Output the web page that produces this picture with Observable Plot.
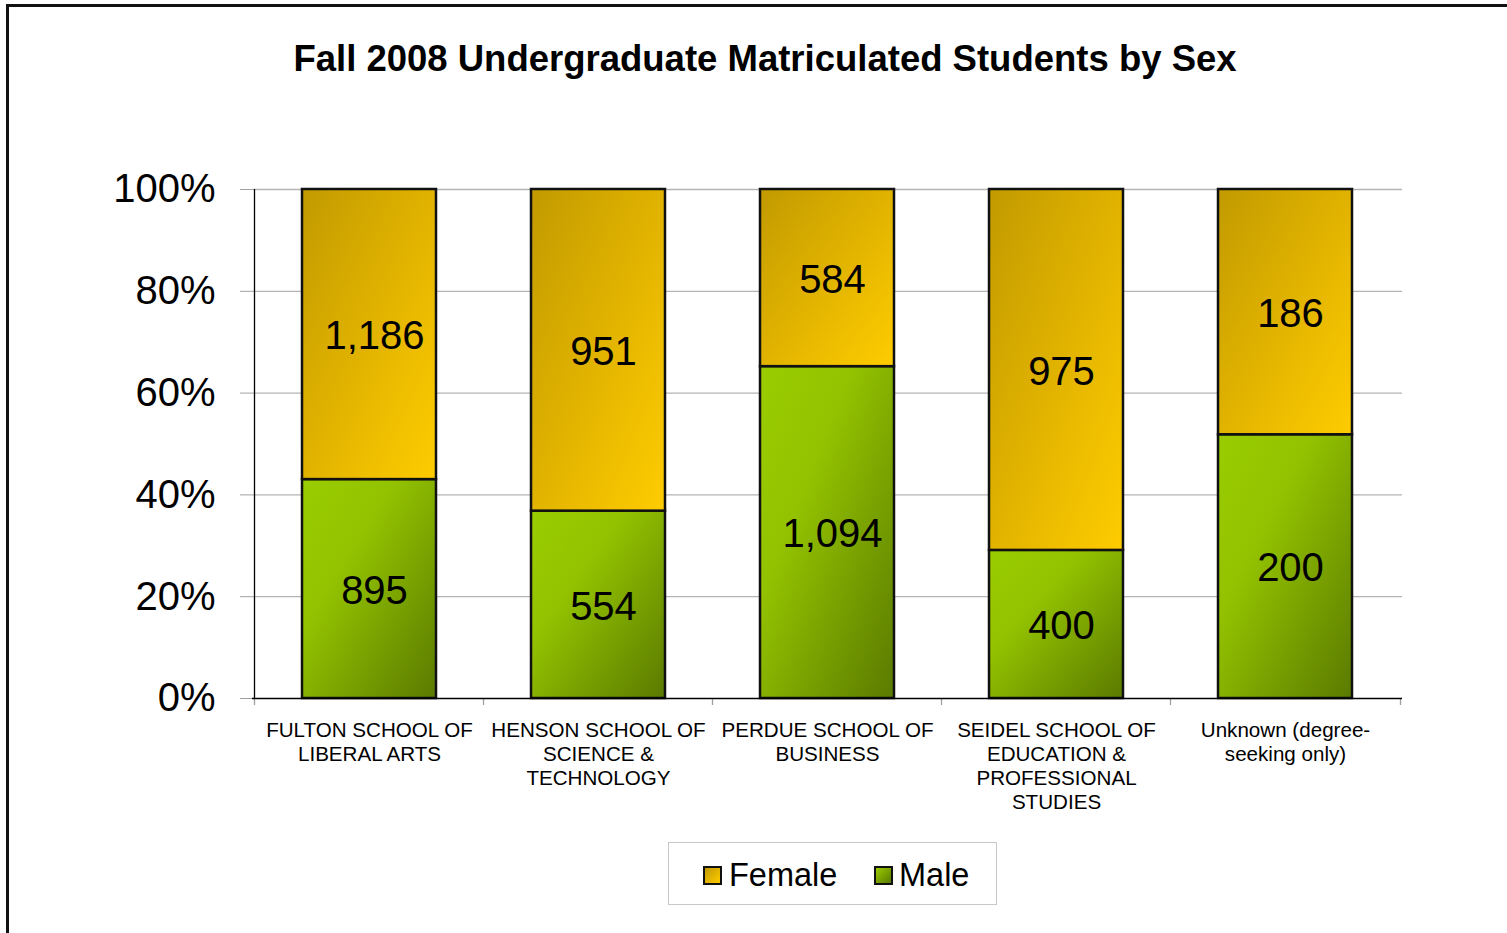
<!DOCTYPE html>
<html><head><meta charset="utf-8">
<script src="https://cdn.jsdelivr.net/npm/d3@7"></script>
<script src="https://cdn.jsdelivr.net/npm/@observablehq/plot@0.6"></script>
<style>
body{margin:0;width:1507px;height:933px;overflow:hidden;background:#fff;font-family:"Liberation Sans",Arial,sans-serif;position:relative}
#frame{position:absolute;left:6px;top:4px;width:1600px;height:1000px;border:3px solid #111;}
#chart{position:absolute;left:0;top:0}
#title{position:absolute;left:0;width:1530px;top:41px;text-align:center;font-weight:bold;font-size:36.5px;line-height:1;white-space:nowrap}
#legend{position:absolute;left:668px;top:842px;width:327px;height:61px;border:1px solid #c8c8c8;background:#fff}
.sw{position:absolute;width:15px;height:15px;border:2px solid #111}
.lt{position:absolute;font-size:32.5px;line-height:1;white-space:nowrap}
</style></head>
<body>
<div id="frame"></div>
<div id="chart"></div>
<div id="title">Fall 2008 Undergraduate Matriculated Students by Sex</div>
<div id="legend">
  <div class="sw" style="left:34px;top:23px;background:linear-gradient(135deg,#c29a00,#ffcc00)"></div>
  <div class="lt" style="left:60px;top:16px">Female</div>
  <div class="sw" style="left:205px;top:23px;background:linear-gradient(135deg,#99cc00,#5c7a00)"></div>
  <div class="lt" style="left:230px;top:16px">Male</div>
</div>
<script>
const schools = ["FULTON", "HENSON", "PERDUE", "SEIDEL", "Unknown"];
const schoolLabels = [
  "FULTON SCHOOL OF\nLIBERAL ARTS",
  "HENSON SCHOOL OF\nSCIENCE &\nTECHNOLOGY",
  "PERDUE SCHOOL OF\nBUSINESS",
  "SEIDEL SCHOOL OF\nEDUCATION &\nPROFESSIONAL\nSTUDIES",
  "Unknown (degree-\nseeking only)"
];
const femaleCounts = [1186, 951, 584, 975, 186];
const maleCounts = [895, 554, 1094, 400, 200];
const yTicks = [0, 0.2, 0.4, 0.6, 0.8, 1];

const data = [
  ...schools.map((s, i) => ({school: s, sex: "Male", value: maleCounts[i]})),
  ...schools.map((s, i) => ({school: s, sex: "Female", value: femaleCounts[i]}))
];
const labelOf = Object.fromEntries(schools.map((s, i) => [s, schoolLabels[i]]));
const fmt = d3.format(",");

const chart = Plot.plot({
  width: 1507,
  height: 933,
  marginLeft: 252,
  marginRight: 105,
  marginTop: 189,
  marginBottom: 235,
  style: {fontFamily: "'Liberation Sans', Arial, sans-serif", background: "transparent", overflow: "visible"},
  x: {domain: schools, paddingInner: 0.413, paddingOuter: 0.209, axis: null},
  y: {domain: [0, 1], axis: null},
  color: {domain: ["Female", "Male"], range: ["url(#gF)", "url(#gM)"]},
  marks: [
    Plot.ruleY(yTicks.filter(d => d > 0), {stroke: "#b4b4b4", strokeWidth: 1.3}),
    Plot.axisY({ticks: yTicks, tickFormat: d => Math.round(d * 100) + "%", fontSize: 40, tickSize: 12, tickPadding: 25, stroke: "#a0a0a0", fill: "#000", label: null}),
    Plot.ruleX([schools[0]], {x: d => d, y1: 0, y2: 1, dx: -115, stroke: "#000", strokeWidth: 1.3}),
    Plot.ruleX(schools, {x: d => d, y1: 0, y2: 0, insetBottom: -7, dx: -115, stroke: "#a0a0a0", strokeWidth: 1.3}),
    Plot.ruleX([schools[schools.length - 1]], {x: d => d, y1: 0, y2: 0, insetBottom: -7, dx: 115, stroke: "#a0a0a0", strokeWidth: 1.3}),
    Plot.barY(data, Plot.stackY({offset: "normalize"}, {x: "school", y: "value", fill: "sex", stroke: "#111", strokeWidth: 2.5})),
    Plot.ruleY([0], {stroke: "#000", strokeWidth: 1.3}),
    Plot.text(data, Plot.stackY({offset: "normalize"}, {x: "school", y: "value", text: d => fmt(d.value), fontSize: 40, dx: 5, dy: 2, fill: "#000"})),
    Plot.text(schools, {x: d => d, y: () => 0, text: d => labelOf[d], fontSize: 20.6, lineHeight: 1.165, lineAnchor: "top", dy: 21, fill: "#000"})
  ]
});

const ns = "http://www.w3.org/2000/svg";
const defs = document.createElementNS(ns, "defs");
defs.innerHTML = `
<linearGradient id="gF" x1="0" y1="0" x2="1" y2="1">
  <stop offset="0" stop-color="#c29a00"/>
  <stop offset="1" stop-color="#ffcc00"/>
</linearGradient>
<linearGradient id="gM" x1="0" y1="0" x2="1" y2="1">
  <stop offset="0" stop-color="#9acd00"/>
  <stop offset="0.35" stop-color="#93c200"/>
  <stop offset="1" stop-color="#5a7a00"/>
</linearGradient>`;
chart.insertBefore(defs, chart.firstChild);
document.getElementById("chart").appendChild(chart);
</script>
</body></html>
